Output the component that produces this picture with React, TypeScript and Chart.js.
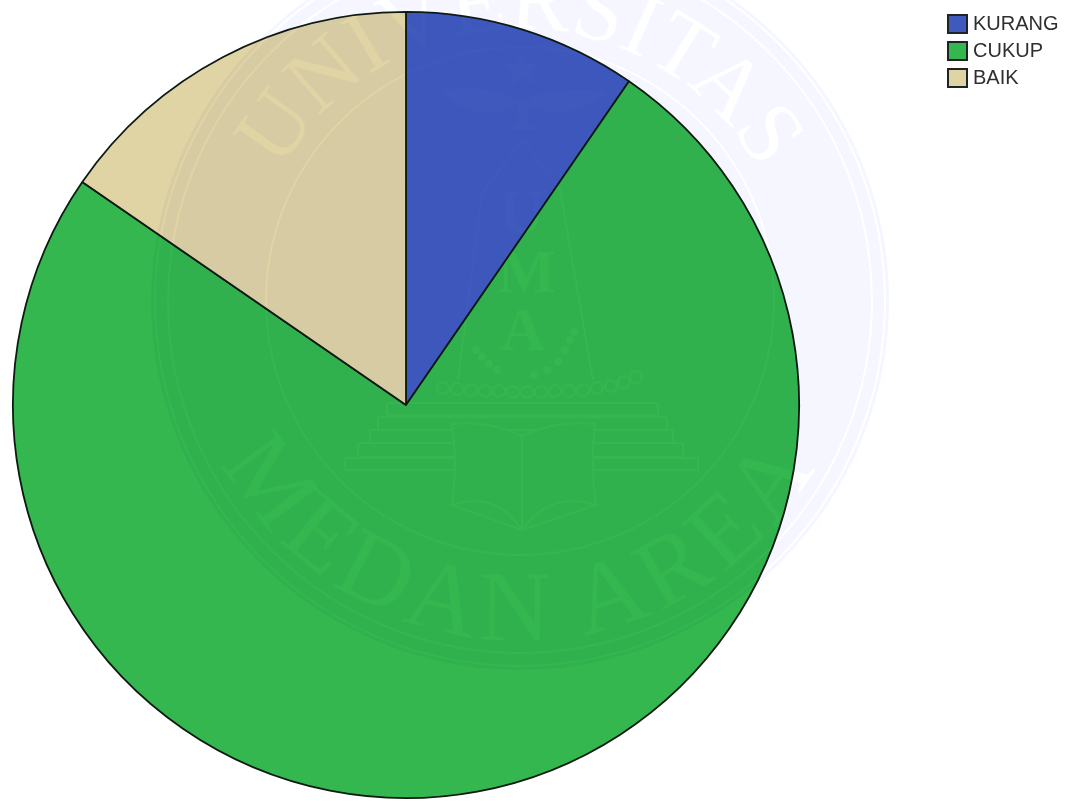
import React, { useEffect, useRef } from "react";
import { Chart, registerables } from "chart.js";

Chart.register(...registerables);

const categories = ["KURANG", "CUKUP", "BAIK"];
const values = [9.6, 75.0, 15.4];
const colors = ["#3f5abc", "#33b74e", "#e0d3a4"];

// Scanned-document seal that sits over the whole page
const sealRings = [254, 352, 365];
const sealSteps = [
  [387, 403, 271, 12],
  [378, 417, 289, 13],
  [370, 430, 303, 13],
  [358, 443, 325, 14],
  [345, 458, 353, 12],
];
const sealBeads = [
  [443, 388], [457, 389], [471, 390], [485, 391], [499, 391], [513, 392], [527, 392], [541, 392],
  [555, 391], [569, 391], [583, 390], [597, 388], [611, 386], [624, 382], [636, 377],
];
const sealGarland = [
  [476, 350], [482, 357], [489, 364], [497, 370], [534, 375], [547, 370], [558, 362], [565, 350], [570, 340], [574, 332],
];

export default function App() {
  const ref = useRef<HTMLCanvasElement>(null);
  useEffect(() => {
    document.body.style.margin = "0";
    document.body.style.background = "#fff";
    const chart = new Chart(ref.current!, {
      type: "pie",
      data: {
        labels: categories,
        datasets: [{ data: values, backgroundColor: colors, borderColor: "#0d1a12", borderWidth: 1.8, borderAlign: "center" }],
      },
      options: {
        responsive: false,
        animation: false,
        layout: { padding: { left: 12, top: 11, right: 268, bottom: 2 } },
        plugins: { legend: { display: false }, tooltip: { enabled: false }, title: { display: false } },
      },
    });
    return () => chart.destroy();
  }, []);

  return (
    <div style={{ position: "relative", width: 1068, height: 801, overflow: "hidden", background: "#fff" }}>
      <canvas ref={ref} width={1068} height={801} style={{ position: "absolute", left: 0, top: 0, display: "block" }} />
      <svg width={1068} height={801} style={{ position: "absolute", left: 0, top: 0, pointerEvents: "none" }}>
        <defs>
          <path id="sealTop" d="M 248 301 A 272 272 0 0 1 792 301" />
          <path id="sealBottom" d="M 181 301 A 339 339 0 0 0 859 301" />
          <mask id="sealMask" maskUnits="userSpaceOnUse" x={0} y={0} width={1068} height={801}>
            <rect x={0} y={0} width={1068} height={801} fill="#fff" />
            <g fill="none" stroke="#000" strokeWidth={2}>
              {sealRings.map((r) => (
                <circle key={r} cx={520} cy={301} r={r} />
              ))}
              {sealSteps.map(([x, y, w, h]) => (
                <rect key={y} x={x} y={y} width={w} height={h} rx={2} />
              ))}
              {sealBeads.map(([x, y]) => (
                <circle key={x} cx={x} cy={y} r={6} />
              ))}
              <path d="M 523 140 L 482 193 L 458 380 M 523 140 L 560 190 L 593 380" />
            </g>
            {sealGarland.map(([x, y]) => (
              <circle key={x} cx={x} cy={y} r={4} fill="#000" />
            ))}
            <path d="M 452 424 Q 490 420 522 436 Q 555 420 595 424 Q 590 465 596 505 L 522 530 L 452 505 Q 458 465 452 424 Z" fill="#fff" stroke="#000" strokeWidth={2} />
            <path d="M 522 436 L 522 530 M 452 505 Q 495 490 522 530 Q 550 490 596 505" fill="none" stroke="#000" strokeWidth={2} />
            <path d="M 522 52 L 527 64 L 540 64 L 530 72 L 534 85 L 522 77 L 510 85 L 514 72 L 504 64 L 517 64 Z" fill="#000" />
            <path d="M 443 90 Q 490 85 520 100 Q 505 115 480 112 Q 455 108 443 90 Z M 607 92 Q 560 85 525 100 Q 540 115 565 112 Q 590 108 607 92 Z M 515 100 L 530 100 L 526 124 L 543 130 L 510 130 L 520 120 Z" fill="#000" />
            <g fontFamily="'Liberation Serif', serif" fontWeight="bold" fontSize={62} fill="#000" textAnchor="middle">
              <text x={522} y={232}>U</text>
              <text x={527} y={292}>M</text>
              <text x={523} y={350}>A</text>
            </g>
            <g fontFamily="'Liberation Serif', serif" fill="#000" textAnchor="middle">
              <text fontSize={90}>
                <textPath href="#sealTop" startOffset="50%">UNIVERSITAS</textPath>
              </text>
              <text fontSize={100} letterSpacing={7}>
                <textPath href="#sealBottom" startOffset="50%">MEDAN AREA</textPath>
              </text>
            </g>
          </mask>
        </defs>
        <g mask="url(#sealMask)" style={{ mixBlendMode: "multiply" }}>
          <circle cx={520} cy={301} r={369} fill="#f5f6ff" />
        </g>
      </svg>
      <div style={{ position: "absolute", left: 947, top: 10, fontFamily: "'Liberation Sans', Arial, sans-serif", fontSize: 20, color: "#2f2f2f" }}>
        {categories.map((c, i) => (
          <div key={c} style={{ display: "flex", alignItems: "center", height: 27, whiteSpace: "nowrap" }}>
            <span style={{ width: 21, height: 20, boxSizing: "border-box", border: "2px solid #1d2326", background: colors[i], marginRight: 5, flex: "none" }} />
            {c}
          </div>
        ))}
      </div>
    </div>
  );
}
